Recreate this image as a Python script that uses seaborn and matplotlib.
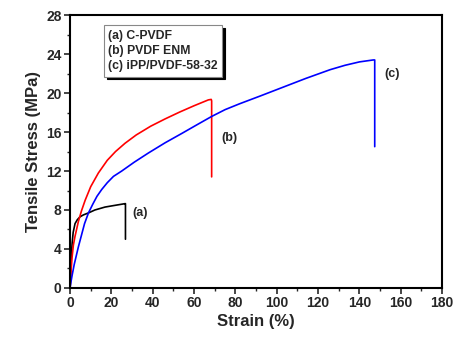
import matplotlib
matplotlib.use("Agg")
import matplotlib.pyplot as plt
import seaborn as sns
import pandas as pd
from matplotlib.lines import Line2D
from matplotlib.ticker import MultipleLocator

# ---- data ----
strain_a = [0, 0.5, 1, 1.5, 2.4, 3.5, 4.8, 6.5, 8.9, 12, 16.9, 21, 26.6, 26.8, 26.8]
stress_a = [0, 3.0, 4.6, 5.7, 6.6, 7.0, 7.3, 7.5, 7.7, 8.0, 8.3, 8.45, 8.65, 8.65, 5.0]

strain_b = [0, 0.5, 1, 1.6, 2.4, 4, 5.5, 7.3, 10, 13.7, 18, 22, 26.6, 32, 39, 46, 53, 60, 66.9, 68.3, 68.5, 68.5]
stress_b = [0, 1.8, 3.2, 4.4, 5.3, 6.8, 7.9, 9.0, 10.4, 11.8, 13.1, 14.0, 14.85, 15.7, 16.6, 17.35, 18.05, 18.7, 19.3, 19.35, 19.2, 11.4]

strain_c = [0, 0.5, 1, 2, 3, 4, 5.5, 7, 8.9, 11, 13, 15.3, 18, 21, 25, 31, 37.9, 46, 54, 61, 68.5, 75, 82, 92, 103, 114, 125.8, 133, 140, 146.7, 147.4, 147.4]
stress_c = [0, 0.7, 1.3, 2.4, 3.3, 4.2, 5.4, 6.6, 7.7, 8.6, 9.4, 10.1, 10.8, 11.45, 12.0, 12.9, 13.85, 14.9, 15.85, 16.7, 17.6, 18.3, 18.9, 19.7, 20.6, 21.5, 22.4, 22.85, 23.2, 23.4, 23.4, 14.5]

labels = ["(a) C-PVDF", "(b) PVDF ENM", "(c) iPP/PVDF-58-32"]
colors = ["black", "red", "blue"]
tags = ["(a)", "(b)", "(c)"]
tag_pos = [(34, 7.7), (77, 15.4), (156, 22.0)]

xticks = list(range(0, 181, 20))
yticks = list(range(0, 29, 4))

sns.set_theme(style="white")
plt.rcParams['font.family'] = ['Liberation Sans', 'DejaVu Sans']

fig = plt.figure(figsize=(4.61, 3.44), dpi=100)
ax = fig.add_axes([0.152, 0.163, 0.807, 0.793])

for sx, sy, c in [(strain_a, stress_a, colors[0]), (strain_b, stress_b, colors[1]), (strain_c, stress_c, colors[2])]:
    df = pd.DataFrame({"strain": sx, "stress": sy})
    sns.lineplot(data=df, x="strain", y="stress", sort=False, estimator=None,
                 color=c, lw=1.2, ax=ax)

for t, (tx, ty) in zip(tags, tag_pos):
    ax.text(tx, ty, t, fontsize=9, fontweight='bold', ha='center', va='center')

ax.set_xlim(0, 180)
ax.set_ylim(0, 28)
ax.set_xticks(xticks)
ax.set_yticks(yticks)
ax.xaxis.set_minor_locator(MultipleLocator(10))
ax.yaxis.set_minor_locator(MultipleLocator(2))
ax.tick_params(axis='both', which='major', direction='out', length=4, width=1.2,
               labelsize=10, bottom=True, left=True, top=False, right=False, pad=2)
ax.tick_params(axis='both', which='minor', direction='out', length=2.5, width=1.0,
               bottom=True, left=True, top=False, right=False)
for lab in ax.get_xticklabels() + ax.get_yticklabels():
    lab.set_fontweight('bold')
for sp in ax.spines.values():
    sp.set_visible(True)
    sp.set_color('black')
    sp.set_linewidth(1.5)

ax.set_xlabel("Strain (%)", fontsize=12, fontweight='bold', labelpad=3)
ax.set_ylabel("Tensile Stress (MPa)", fontsize=12, fontweight='bold', labelpad=4)

handles = [Line2D([], [], color='none') for _ in labels]
leg = ax.legend(handles, labels, loc='upper left', bbox_to_anchor=(0.091, 0.963),
                handlelength=0, handletextpad=0, frameon=True, fancybox=False,
                shadow={'color': 'black', 'alpha': 1}, borderaxespad=0,
                prop={'weight': 'bold', 'size': 8.8}, labelspacing=0.28,
                borderpad=0.35)
leg.get_frame().set_edgecolor('#888888')
leg.get_frame().set_linewidth(0.8)
leg.get_frame().set_alpha(1)

fig.savefig("out.png", dpi=100)
